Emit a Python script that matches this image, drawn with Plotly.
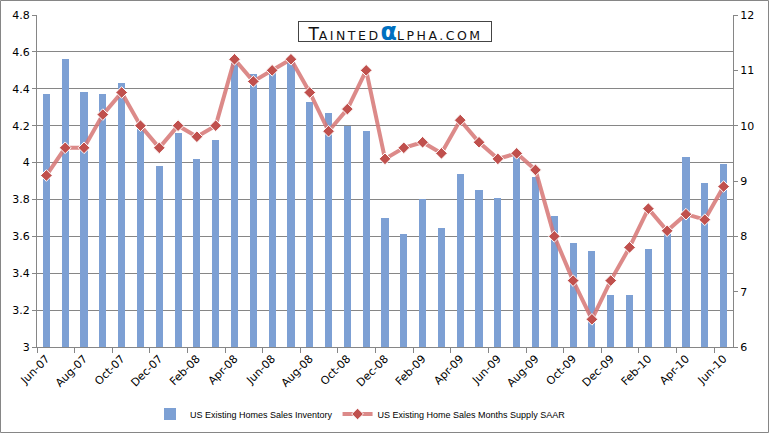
import plotly.graph_objects as go

months = ["Jun-07","Jul-07","Aug-07","Sep-07","Oct-07","Nov-07","Dec-07","Jan-08","Feb-08","Mar-08",
          "Apr-08","May-08","Jun-08","Jul-08","Aug-08","Sep-08","Oct-08","Nov-08","Dec-08","Jan-09",
          "Feb-09","Mar-09","Apr-09","May-09","Jun-09","Jul-09","Aug-09","Sep-09","Oct-09","Nov-09",
          "Dec-09","Jan-10","Feb-10","Mar-10","Apr-10","May-10","Jun-10"]
inventory = [4.37,4.56,4.38,4.37,4.43,4.21,3.98,4.16,4.02,4.12,
             4.54,4.48,4.49,4.57,4.33,4.27,4.20,4.17,3.70,3.61,
             3.80,3.645,3.94,3.85,3.81,4.04,3.92,3.71,3.565,3.52,
             3.28,3.28,3.53,3.63,4.03,3.89,3.99]
supply = [9.1,9.6,9.6,10.2,10.6,10.0,9.6,10.0,9.8,10.0,
          11.2,10.8,11.0,11.2,10.6,9.9,10.3,11.0,9.4,9.6,
          9.7,9.5,10.1,9.7,9.4,9.5,9.2,8.0,7.2,6.5,
          7.2,7.8,8.5,8.1,8.4,8.3,8.9]
left_ticks = [3.0,3.2,3.4,3.6,3.8,4.0,4.2,4.4,4.6,4.8]
right_ticks = [6,7,8,9,10,11,12]

xs = list(range(len(months)))
label_idx = xs[::2]

fig = go.Figure()
fig.add_trace(go.Bar(x=xs, y=inventory, name="US Existing Homes Sales Inventory",
                     marker=dict(color="#7DA0D4", line=dict(width=0)), width=0.38, yaxis="y"))
fig.add_trace(go.Scatter(x=xs, y=supply, name="US Existing Home Sales Months Supply SAAR",
                         mode="lines+markers", yaxis="y2",
                         line=dict(color="rgba(214,118,116,0.85)", width=4),
                         marker=dict(symbol="diamond", size=9, color="#C0504D",
                                     line=dict(color="white", width=1))))

L, R, T, B = 37, 36, 15, 86
pw, ph = 769 - L - R, 433 - T - B

fig.update_layout(
    width=769, height=433,
    margin=dict(l=L, r=R, t=T, b=B, autoexpand=False),
    paper_bgcolor="white", plot_bgcolor="white",
    font=dict(family="DejaVu Sans", size=11, color="black"),
    showlegend=True,
    bargap=0,
    legend=dict(orientation="h", x=(150 - L) / pw, xanchor="left", y=(347 - 414) / ph, yanchor="middle",
                font=dict(family="Liberation Sans", size=9, color="black"),
                itemwidth=30, traceorder="normal"),
    xaxis=dict(range=[-0.5, len(months) - 0.5], tickmode="array", tickvals=label_idx,
               ticktext=[months[i] for i in label_idx], tickangle=-45, ticks="",
               showgrid=False, showline=True, linecolor="#868686", linewidth=1,
               zeroline=False,
               minor=dict(tick0=-0.5, dtick=2, ticks="outside", ticklen=5, tickcolor="#868686", showgrid=False)),
    yaxis=dict(range=[3, 4.8], tickmode="array", tickvals=left_ticks,
               ticktext=[f"{v:g}" for v in left_ticks], showgrid=True, gridcolor="#868686", gridwidth=1,
               showline=True, linecolor="#868686", ticks="outside", ticklen=4, tickcolor="#868686",
               zeroline=False),
    yaxis2=dict(range=[6, 12], overlaying="y", side="right", tickmode="array", tickvals=right_ticks,
                showgrid=False, showline=True, linecolor="#868686", ticks="outside", ticklen=4,
                tickcolor="#868686", zeroline=False),
)

fig.add_annotation(xref="paper", yref="paper", x=(394.5 - L) / pw, y=(347 - 32) / ph,
                   text="T<span style='font-size:12.5px;letter-spacing:2.5px'>AINTED</span><span style='color:#0070C0;font-size:24px'><b>α</b></span><span style='font-size:12.5px;letter-spacing:2.5px'>LPHA.COM</span>",
                   showarrow=False, font=dict(family="DejaVu Sans", size=17, color="#111111"),
                   bgcolor="white", bordercolor="#444444", borderwidth=1, borderpad=0,
                   height=19, width=192, valign="middle",
                   xanchor="center", yanchor="middle")

fig.add_shape(type="rect", xref="paper", yref="paper",
              x0=(0.5 - L) / pw, x1=(768.5 - L) / pw, y0=(347 - 432.5) / ph, y1=(347 - 0.5) / ph,
              line=dict(color="#868686", width=1), fillcolor="rgba(0,0,0,0)", layer="above")

fig.write_html("out.html", config={"displayModeBar": False},
               post_script="document.body.style.margin='0';document.body.style.overflow='hidden';")
